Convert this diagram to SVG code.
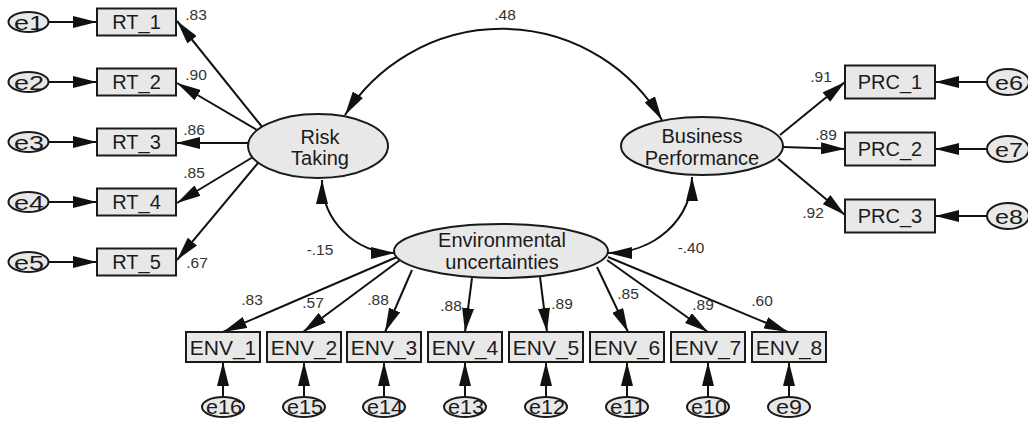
<svg xmlns="http://www.w3.org/2000/svg" width="1028" height="421" viewBox="0 0 1028 421">
<style>
.bg{fill:#ffffff}
.box{fill:#e8e8e8;stroke:#1a1a1a;stroke-width:2}
.ell{fill:#e8e8e8;stroke:#1a1a1a;stroke-width:2}
.t{font-family:"Liberation Sans",Arial,sans-serif;font-size:20px;fill:#1a1a1a;text-anchor:middle}
.te{font-family:"Liberation Sans",Arial,sans-serif;font-size:20px;fill:#1a1a1a;text-anchor:middle}
.tenv{font-family:"Liberation Sans",Arial,sans-serif;font-size:21px;fill:#1a1a1a;text-anchor:middle}
.lab{font-family:"Liberation Sans",Arial,sans-serif;font-size:15.5px;fill:#333333;text-anchor:middle}
.c{fill:none;stroke:#111111;stroke-width:2;marker-end:url(#ah)}
.cc{fill:none;stroke:#111111;stroke-width:2;marker-start:url(#ah);marker-end:url(#ah)}
</style>
<defs>
<marker id="ah" markerUnits="userSpaceOnUse" markerWidth="24" markerHeight="12" refX="24" refY="6" orient="auto-start-reverse" viewBox="0 0 24 12">
<path d="M0,0 L24,6 L0,12 z" fill="#111111"/>
</marker>
</defs>
<rect class="bg" x="0" y="0" width="1028" height="421"/>

<g id="connectors">
<line class="c" x1="48" y1="22" x2="97" y2="22"/>
<line class="c" x1="48" y1="82" x2="97" y2="82"/>
<line class="c" x1="48" y1="142" x2="97" y2="142"/>
<line class="c" x1="48" y1="202" x2="97" y2="202"/>
<line class="c" x1="48" y1="262" x2="97" y2="262"/>
<line class="c" x1="263" y1="128" x2="177" y2="21"/>
<line class="c" x1="257" y1="130" x2="177" y2="83"/>
<line class="c" x1="250" y1="143" x2="176" y2="143"/>
<line class="c" x1="253" y1="157" x2="177" y2="203"/>
<line class="c" x1="258" y1="163" x2="177" y2="260"/>
<path class="cc" d="M345,115 A186,186 0 0 1 662,120"/>
<path class="cc" d="M322,180 A73,73 0 0 0 395,253"/>
<path class="cc" d="M608,253 A84,76 0 0 0 692,177"/>
<line class="c" x1="780" y1="135" x2="845" y2="82"/>
<line class="c" x1="783" y1="147" x2="845" y2="149"/>
<line class="c" x1="778" y1="159" x2="845" y2="215"/>
<line class="c" x1="987" y1="82" x2="935" y2="82"/>
<line class="c" x1="987" y1="149" x2="935" y2="149"/>
<line class="c" x1="987" y1="216" x2="935" y2="216"/>
<line class="c" x1="397" y1="257" x2="223" y2="332"/>
<line class="c" x1="400" y1="260" x2="303" y2="332"/>
<line class="c" x1="412" y1="270" x2="385" y2="332"/>
<line class="c" x1="472" y1="278" x2="465" y2="332"/>
<line class="c" x1="540" y1="277" x2="547" y2="332"/>
<line class="c" x1="597" y1="267" x2="628" y2="332"/>
<line class="c" x1="607" y1="260" x2="708" y2="332"/>
<line class="c" x1="608" y1="257" x2="788" y2="332"/>
<line class="c" x1="223" y1="397" x2="223" y2="362"/>
<line class="c" x1="304" y1="397" x2="304" y2="362"/>
<line class="c" x1="384" y1="397" x2="384" y2="362"/>
<line class="c" x1="465" y1="397" x2="465" y2="362"/>
<line class="c" x1="546" y1="397" x2="546" y2="362"/>
<line class="c" x1="627" y1="397" x2="627" y2="362"/>
<line class="c" x1="708" y1="397" x2="708" y2="362"/>
<line class="c" x1="789" y1="397" x2="789" y2="362"/>
<text class="lab" x="196" y="20">.83</text>
<text class="lab" x="196" y="80">.90</text>
<text class="lab" x="194" y="135">.86</text>
<text class="lab" x="194" y="178">.85</text>
<text class="lab" x="197" y="268">.67</text>
<text class="lab" x="505" y="20">.48</text>
<text class="lab" x="320" y="255">-.15</text>
<text class="lab" x="691" y="253">-.40</text>
<text class="lab" x="821" y="82">.91</text>
<text class="lab" x="826" y="140">.89</text>
<text class="lab" x="813" y="218">.92</text>
<text class="lab" x="252" y="305">.83</text>
<text class="lab" x="313" y="308">.57</text>
<text class="lab" x="378" y="305">.88</text>
<text class="lab" x="451" y="311">.88</text>
<text class="lab" x="562" y="309">.89</text>
<text class="lab" x="628" y="299">.85</text>
<text class="lab" x="703" y="310">.89</text>
<text class="lab" x="762" y="306">.60</text>
</g>

<g id="RiskTaking"><ellipse class="ell" cx="318" cy="146" rx="70" ry="32"/><text class="t" x="320" y="144">Risk</text><text class="t" x="320" y="165">Taking</text></g>
<g id="BusinessPerformance"><ellipse class="ell" cx="702" cy="146" rx="81" ry="29"/><text class="t" x="702" y="143">Business</text><text class="t" x="702" y="165">Performance</text></g>
<g id="EnvironmentalUncertainties"><ellipse class="ell" cx="501" cy="251" rx="107" ry="27"/><text class="t" x="502" y="247">Environmental</text><text class="t" x="502" y="269">uncertainties</text></g>

<g id="RT_1"><rect class="box" x="97" y="8.5" width="79" height="27"/><text class="t" x="136.5" y="29">RT_1</text></g>
<g id="RT_2"><rect class="box" x="97" y="68.5" width="79" height="27"/><text class="t" x="136.5" y="89">RT_2</text></g>
<g id="RT_3"><rect class="box" x="97" y="128.5" width="79" height="27"/><text class="t" x="136.5" y="149">RT_3</text></g>
<g id="RT_4"><rect class="box" x="97" y="188.5" width="79" height="27"/><text class="t" x="136.5" y="209">RT_4</text></g>
<g id="RT_5"><rect class="box" x="97" y="248.5" width="79" height="27"/><text class="t" x="136.5" y="269">RT_5</text></g>

<g id="e1"><ellipse class="ell" cx="28.5" cy="22" rx="20" ry="10"/><text class="te" x="29" y="29.5" textLength="30" lengthAdjust="spacingAndGlyphs">e1</text></g>
<g id="e2"><ellipse class="ell" cx="28.5" cy="82" rx="20" ry="10"/><text class="te" x="29" y="89.5" textLength="30" lengthAdjust="spacingAndGlyphs">e2</text></g>
<g id="e3"><ellipse class="ell" cx="28.5" cy="142" rx="20" ry="10"/><text class="te" x="29" y="149.5" textLength="30" lengthAdjust="spacingAndGlyphs">e3</text></g>
<g id="e4"><ellipse class="ell" cx="28.5" cy="202" rx="20" ry="10"/><text class="te" x="29" y="209.5" textLength="30" lengthAdjust="spacingAndGlyphs">e4</text></g>
<g id="e5"><ellipse class="ell" cx="28.5" cy="262" rx="20" ry="10"/><text class="te" x="29" y="269.5" textLength="30" lengthAdjust="spacingAndGlyphs">e5</text></g>

<g id="PRC_1"><rect class="box" x="845" y="65.5" width="90" height="33"/><text class="t" x="890" y="89">PRC_1</text></g>
<g id="PRC_2"><rect class="box" x="845" y="132.5" width="90" height="33"/><text class="t" x="890" y="156">PRC_2</text></g>
<g id="PRC_3"><rect class="box" x="845" y="199.5" width="90" height="33"/><text class="t" x="890" y="223">PRC_3</text></g>

<g id="e6"><ellipse class="ell" cx="1008" cy="82" rx="21" ry="13"/><text class="te" x="1009" y="89.5" textLength="28" lengthAdjust="spacingAndGlyphs">e6</text></g>
<g id="e7"><ellipse class="ell" cx="1008" cy="149" rx="21" ry="13"/><text class="te" x="1009" y="156.5" textLength="28" lengthAdjust="spacingAndGlyphs">e7</text></g>
<g id="e8"><ellipse class="ell" cx="1008" cy="216" rx="21" ry="13"/><text class="te" x="1009" y="223.5" textLength="28" lengthAdjust="spacingAndGlyphs">e8</text></g>

<g id="ENV_1"><rect class="box" x="186" y="332" width="74" height="30"/><text class="tenv" x="223" y="354.5">ENV_1</text></g>
<g id="ENV_2"><rect class="box" x="267" y="332" width="74" height="30"/><text class="tenv" x="304" y="354.5">ENV_2</text></g>
<g id="ENV_3"><rect class="box" x="347" y="332" width="74" height="30"/><text class="tenv" x="384" y="354.5">ENV_3</text></g>
<g id="ENV_4"><rect class="box" x="428" y="332" width="74" height="30"/><text class="tenv" x="465" y="354.5">ENV_4</text></g>
<g id="ENV_5"><rect class="box" x="509" y="332" width="74" height="30"/><text class="tenv" x="546" y="354.5">ENV_5</text></g>
<g id="ENV_6"><rect class="box" x="590" y="332" width="74" height="30"/><text class="tenv" x="627" y="354.5">ENV_6</text></g>
<g id="ENV_7"><rect class="box" x="671" y="332" width="74" height="30"/><text class="tenv" x="708" y="354.5">ENV_7</text></g>
<g id="ENV_8"><rect class="box" x="752" y="332" width="74" height="30"/><text class="tenv" x="789" y="354.5">ENV_8</text></g>

<g id="e16"><ellipse class="ell" cx="223" cy="407" rx="21" ry="10"/><text class="te" x="224" y="414" font-size="19" textLength="36" lengthAdjust="spacingAndGlyphs">e16</text></g>
<g id="e15"><ellipse class="ell" cx="304" cy="407" rx="21" ry="10"/><text class="te" x="305" y="414" font-size="19" textLength="36" lengthAdjust="spacingAndGlyphs">e15</text></g>
<g id="e14"><ellipse class="ell" cx="384" cy="407" rx="21" ry="10"/><text class="te" x="385" y="414" font-size="19" textLength="36" lengthAdjust="spacingAndGlyphs">e14</text></g>
<g id="e13"><ellipse class="ell" cx="465" cy="407" rx="21" ry="10"/><text class="te" x="466" y="414" font-size="19" textLength="36" lengthAdjust="spacingAndGlyphs">e13</text></g>
<g id="e12"><ellipse class="ell" cx="546" cy="407" rx="21" ry="10"/><text class="te" x="547" y="414" font-size="19" textLength="36" lengthAdjust="spacingAndGlyphs">e12</text></g>
<g id="e11"><ellipse class="ell" cx="627" cy="407" rx="21" ry="10"/><text class="te" x="628" y="414" font-size="19" textLength="36" lengthAdjust="spacingAndGlyphs">e11</text></g>
<g id="e10"><ellipse class="ell" cx="708" cy="407" rx="21" ry="10"/><text class="te" x="709" y="414" font-size="19" textLength="36" lengthAdjust="spacingAndGlyphs">e10</text></g>
<g id="e9"><ellipse class="ell" cx="789" cy="407" rx="21" ry="10"/><text class="te" x="789" y="414" font-size="19" textLength="26" lengthAdjust="spacingAndGlyphs">e9</text></g>
</svg>
